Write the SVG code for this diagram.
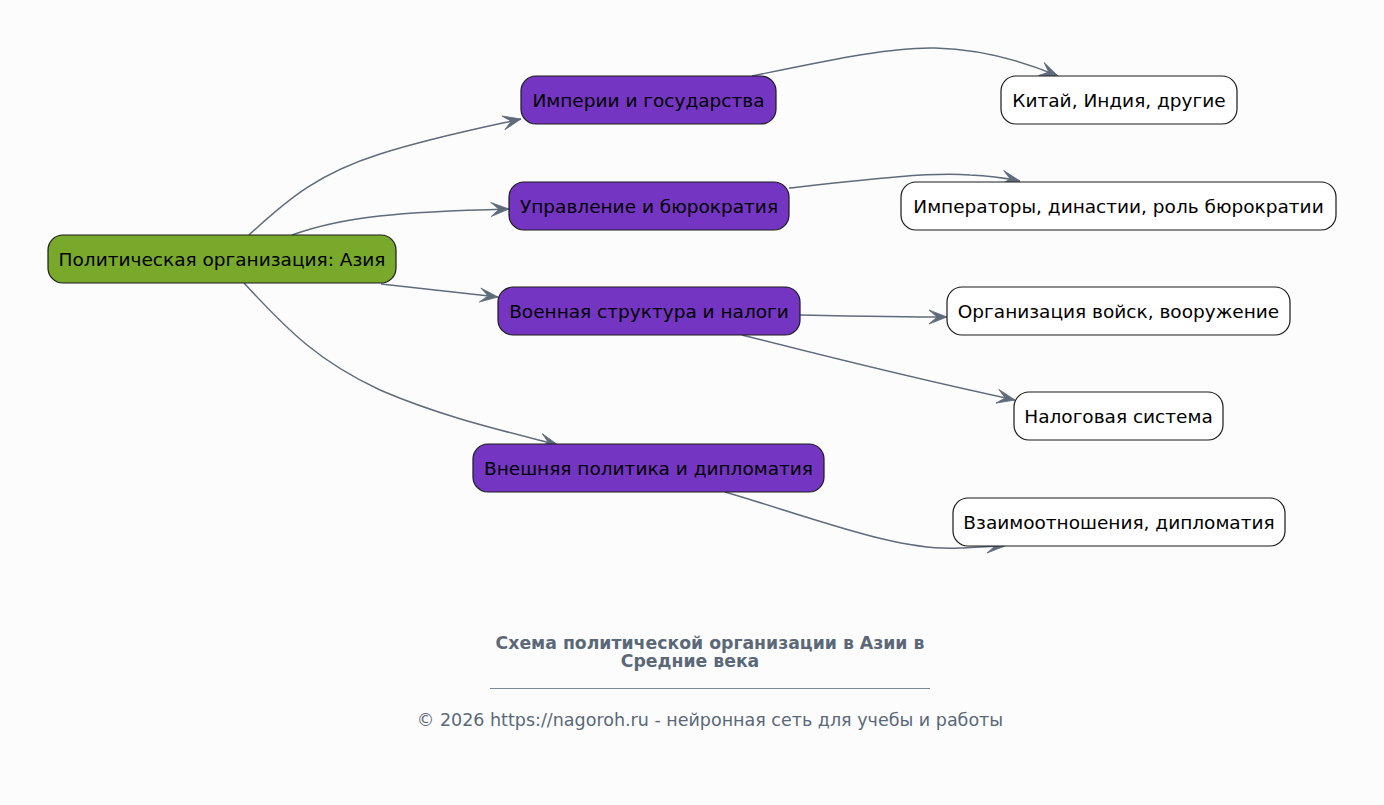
<svg xmlns="http://www.w3.org/2000/svg" width="1384" height="805" viewBox="0 0 1384 805">
<style>
.n rect{stroke:#1a1a1a;stroke-width:1.2}
.n text{font-family:"DejaVu Sans",sans-serif;font-size:18.5px;fill:#000;text-anchor:middle;dominant-baseline:central}
.root rect{fill:#78a92a}
.mid rect{fill:#7535c3}
.leaf rect{fill:#ffffff}
.c path{fill:none;stroke:#5f6b7a;stroke-width:1.5}
.t{font-family:"DejaVu Sans",sans-serif;fill:#5a6878;text-anchor:middle}
</style>
<defs>
<marker id="a" markerUnits="userSpaceOnUse" markerWidth="24" markerHeight="24" viewBox="0 0 24 24" refX="19" refY="12" orient="auto">
<path d="M1,5 L19,12 L1,19 L9,12 Z" fill="#5f6b7a" stroke="#5f6b7a" stroke-width="0.8" stroke-linejoin="miter"/>
</marker>
</defs>
<rect width="1384" height="805" fill="#fcfcfc"/>
<g class="c">
<path d="M249,235 C290,197 320,173 380,154 C430,138 480,128 521,119" marker-end="url(#a)"/>
<path d="M292,235 C345,216 400,212 509,209" marker-end="url(#a)"/>
<path d="M381,284 L498,297" marker-end="url(#a)"/>
<path d="M244,283 C290,333 320,362 380,390 C440,416 500,430 558,445" marker-end="url(#a)"/>
<path d="M752,76 C830,60 890,47 935,48 C980,49 1020,60 1058,76" marker-end="url(#a)"/>
<path d="M789,188 C870,179 930,172 970,175 C990,176 1005,178 1020,181" marker-end="url(#a)"/>
<path d="M800,315 C850,316 900,317 947,317" marker-end="url(#a)"/>
<path d="M742,335 C840,360 930,382 1015,400" marker-end="url(#a)"/>
<path d="M725,492 C820,520 900,552 960,548 C980,547 995,546 1005,546" marker-end="url(#a)"/>
</g>
<g id="root" class="n root"><rect x="48" y="235" width="348" height="48" rx="15"/><text x="222" y="259">Политическая организация: Азия</text></g>
<g id="n1" class="n mid"><rect x="521" y="76" width="255" height="48" rx="15"/><text x="648.5" y="100">Империи и государства</text></g>
<g id="n2" class="n mid"><rect x="509" y="182" width="280" height="48" rx="15"/><text x="649" y="206">Управление и бюрократия</text></g>
<g id="n3" class="n mid"><rect x="498" y="287" width="302" height="48" rx="15"/><text x="649" y="311">Военная структура и налоги</text></g>
<g id="n4" class="n mid"><rect x="473" y="444" width="351" height="48" rx="15"/><text x="648.5" y="468">Внешняя политика и дипломатия</text></g>
<g id="l1" class="n leaf"><rect x="1001" y="76" width="236" height="48" rx="15"/><text x="1119" y="100">Китай, Индия, другие</text></g>
<g id="l2" class="n leaf"><rect x="901" y="182" width="435" height="48" rx="15"/><text x="1118.5" y="206">Императоры, династии, роль бюрократии</text></g>
<g id="l3" class="n leaf"><rect x="947" y="287" width="343" height="48" rx="15"/><text x="1118.5" y="311">Организация войск, вооружение</text></g>
<g id="l4" class="n leaf"><rect x="1014" y="392" width="209" height="48" rx="15"/><text x="1118.5" y="416">Налоговая система</text></g>
<g id="l5" class="n leaf"><rect x="953" y="498" width="332" height="48" rx="15"/><text x="1119" y="522">Взаимоотношения, дипломатия</text></g>
<g id="footer">
<text class="t" x="710" y="649" font-size="17.3" font-weight="bold">Схема политической организации в Азии в</text>
<text class="t" x="690" y="667" font-size="17.3" font-weight="bold">Средние века</text>
<line x1="490" y1="688.5" x2="930" y2="688.5" stroke="#5a6878" stroke-width="0.8"/>
<text class="t" x="710" y="726" font-size="17.5">© 2026 https://nagoroh.ru - нейронная сеть для учебы и работы</text>
</g>
</svg>
